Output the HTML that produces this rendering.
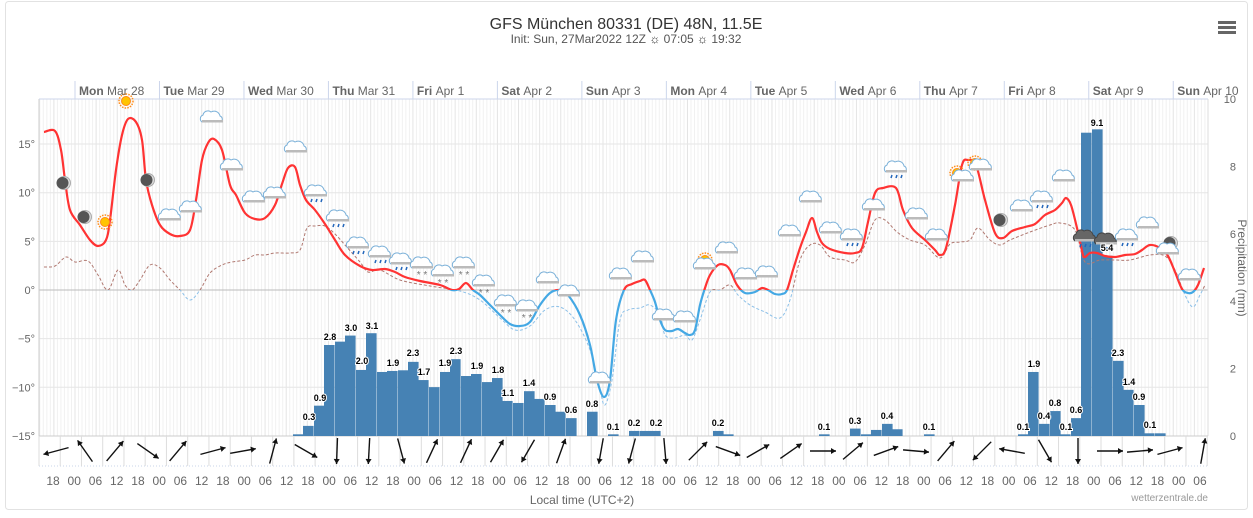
<!DOCTYPE html>
<html><head><meta charset="utf-8"><style>
html,body{margin:0;padding:0;background:#fff;}
body{width:1253px;height:513px;overflow:hidden;font-family:"Liberation Sans","DejaVu Sans",sans-serif;}
svg text{font-family:"Liberation Sans","DejaVu Sans",sans-serif;}
</style></head><body>
<svg id="s" width="1253" height="513" xmlns="http://www.w3.org/2000/svg">
<rect x="5.5" y="1.5" width="1242" height="508" rx="3" fill="#fff" stroke="#e2e2e2"/>
<text x="626" y="29" text-anchor="middle" font-size="16" fill="#333">GFS München 80331 (DE) 48N, 11.5E</text>
<text x="626" y="43" text-anchor="middle" font-size="12" fill="#555">Init: Sun, 27Mar2022 12Z <tspan fill="#222">☼</tspan> 07:05 <tspan fill="#222">☼</tspan> 19:32</text>
<g fill="#666"><rect x="1218" y="21" width="18" height="3"/><rect x="1218" y="26" width="18" height="3"/><rect x="1218" y="31" width="18" height="3"/></g>
<g id="grid"></g>
<g id="bars"></g>
<g id="lines"></g>
<g id="icons"></g>
<g id="wind"></g>
<g id="labels"></g>
<text x="582" y="504" text-anchor="middle" font-size="12" fill="#666">Local time (UTC+2)</text>
<text x="1208" y="501" text-anchor="end" font-size="10" fill="#999">wetterzentrale.de</text>
<text transform="translate(1238,268) rotate(90)" text-anchor="middle" font-size="12" fill="#666">Precipitation (mm)</text>
</svg>
<script>
const NS="http://www.w3.org/2000/svg";
function el(p,t,a,txt){const e=document.createElementNS(NS,t);for(const k in a)e.setAttribute(k,a[k]);if(txt!=null)e.textContent=txt;document.getElementById(p).appendChild(e);return e;}
const L=39,R=1208,T=99,B=436;
const X=h=>75+3.52*h;
for(let h=-10;h<=321;h++){const x=X(h);if(x<L||x>R)continue;el('grid','line',{x1:x,x2:x,y1:T,y2:B,stroke:h%6==0?'#e4e4e4':'#f1f1f1','stroke-width':1});}
for(let t=-15;t<=15;t+=5){const y=290-t*9.73;el('grid','line',{x1:L,x2:R,y1:y,y2:y,stroke:t==0?'#bbb':'#e6e6e6'});
el('labels','text',{x:35,y:y+4,'text-anchor':'end','font-size':11,fill:'#666'},(t<0?'−':'')+Math.abs(t)+'°');}
for(let p=0;p<=10;p+=2){const y=436-p*33.7;el('labels','text',{x:1236,y:y+4,'text-anchor':'end','font-size':11,fill:'#666'},p);}
el('grid','line',{x1:L,x2:L,y1:T,y2:466,stroke:'#ccc'});
el('grid','line',{x1:R,x2:R,y1:T,y2:436,stroke:'#ddd'});
el('grid','line',{x1:L,x2:R,y1:T,y2:T,stroke:'#ccd6eb'});
const days=[['Mon','Mar 28'],['Tue','Mar 29'],['Wed','Mar 30'],['Thu','Mar 31'],['Fri','Apr 1'],['Sat','Apr 2'],['Sun','Apr 3'],['Mon','Apr 4'],['Tue','Apr 5'],['Wed','Apr 6'],['Thu','Apr 7'],['Fri','Apr 8'],['Sat','Apr 9'],['Sun','Apr 10']];
days.forEach((d,i)=>{const x=X(i*24);el('grid','line',{x1:x,x2:x,y1:81,y2:99,stroke:'#ccd6eb'});
const t=el('labels','text',{x:x+4,y:95,'font-size':12,fill:'#666'});const a=document.createElementNS(NS,'tspan');a.setAttribute('font-weight','bold');a.textContent=d[0]+' ';t.appendChild(a);const b=document.createElementNS(NS,'tspan');b.textContent=d[1];t.appendChild(b);});
el('grid','line',{x1:L,x2:R,y1:436,y2:436,stroke:'#ccc'});
el('grid','line',{x1:L,x2:R,y1:466,y2:466,stroke:'#c8d4ea',"stroke-dasharray":"1 2"});
for(let k=0;k<=56;k++){const x=39+21.24*k;if(x>R)break;el('grid','line',{x1:x,x2:x,y1:436,y2:466,stroke:'#ddd'});}
const hl=['18','00','06','12'];
for(let k=0;k<55;k++){el('labels','text',{x:53+21.24*k,y:485,'text-anchor':'middle','font-size':12,fill:'#666'},hl[k%4]);}
const bars=[[293,.05],[303,.3],[314,.9],[324,2.7],[335,2.8],[345,2.98],[356,1.96],[366,3.05],[377,1.9],[387,1.93],[398,1.95],[408,2.2],[418,1.66],[429,1.45],[440,1.9],[450,2.28],[461,1.78],[471,1.84],[482,1.6],[492,1.72],[502,1.04],[513,.98],[524,1.33],[534,1.1],[545,.92],[555,.72],[566,.53],[587,.72],[608,.05],[629,.15],[640,.15],[650,.15],[713,.15],[723,.05],[819,.05],[850,.22],[861,.05],[871,.18],[882,.36],[892,.2],[924,.05],[1018,.05],[1028,1.9],[1039,.36],[1050,.74],[1060,.05],[1071,.53],[1081,9.0],[1092,9.1],[1102,5.35],[1113,2.23],[1123,1.37],[1134,.92],[1144,.08],[1155,.08]];
bars.forEach(b=>{const h=b[1]*33.7;el('bars','rect',{x:b[0],y:436-h,width:10.6,height:h,fill:'#4682b4'});});
const bl=[[309,'0.3',416],[320,'0.9',397],[330,'2.8',336],[351,'3.0',327],[362,'2.0',360],[372,'3.1',325],[393,'1.9',362],[413,'2.3',352],[424,'1.7',371],[445,'1.9',362],[456,'2.3',350],[477,'1.9',365],[498,'1.8',369],[508,'1.1',392],[529,'1.4',382],[550,'0.9',396],[571,'0.6',409],[592,'0.8',403],[613,'0.1',426],[634,'0.2',422],[656,'0.2',422],[718,'0.2',422],[824,'0.1',426],[855,'0.3',420],[887,'0.4',415],[929,'0.1',426],[1023,'0.1',426],[1034,'1.9',363],[1044,'0.4',415],[1055,'0.8',402],[1066,'0.1',426],[1076,'0.6',409],[1097,'9.1',122],[1107,'5.4',247],[1118,'2.3',352],[1129,'1.4',381],[1139,'0.9',396],[1150,'0.1',424]];
bl.forEach(b=>el('labels','text',{x:b[0],y:b[2]+4,'text-anchor':'middle','font-size':9,'font-weight':'bold',fill:'#000',stroke:'#fff','stroke-width':2,'paint-order':'stroke'},b[1]));
function path(pts){let d='M'+pts[0][0]+','+pts[0][1];for(let i=1;i<pts.length;i++){const p0=pts[i-1],p1=pts[i],pm=pts[i-2]||p0,pn=pts[i+1]||p1;
const c1=[p0[0]+(p1[0]-pm[0])/6,p0[1]+(p1[1]-pm[1])/6],c2=[p1[0]-(pn[0]-p0[0])/6,p1[1]-(pn[1]-p0[1])/6];d+=' C'+c1+' '+c2+' '+p1;}return d;}
const temp=[[44,132],[55,131],[61,150],[65,180],[70,210],[80,225],[90,240],[98,246],[106,240],[110,220],[116,170],[122,135],[128,119],[136,122],[142,140],[146,180],[152,205],[160,225],[170,234],[180,236],[190,230],[196,200],[202,160],[208,143],[214,139],[222,150],[230,185],[236,195],[245,213],[255,219],[265,218],[275,205],[282,184],[288,168],[295,167],[300,185],[306,200],[315,210],[325,224],[335,240],[345,255],[360,266],[372,270],[385,269],[395,272],[405,277],[420,281],[440,285],[452,290],[459,289],[466,283],[473,290],[480,295],[490,305],[500,315],[510,324],[520,326],[530,322],[540,305],[550,293],[560,290],[568,295],[580,315],[590,345],[597,380],[604,397],[610,380],[616,320],[624,290],[632,284],[640,281],[645,280],[650,290],[655,302],[660,320],[665,330],[672,331],[678,329],[685,333],[690,335],[695,330],[700,305],[705,288],[710,275],[718,265],[725,265],[730,270],[737,285],[745,293],[755,292],[762,288],[768,290],[775,294],[782,294],[787,290],[793,270],[800,248],[806,232],[812,218],[817,232],[822,243],[830,249],[845,253],[855,253],[862,248],[868,222],[875,193],[883,188],[896,188],[903,210],[912,228],[925,240],[935,250],[940,255],[946,248],[955,205],[962,165],[968,160],[976,165],[985,200],[995,233],[1003,238],[1012,231],[1025,227],[1035,224],[1045,215],[1055,210],[1062,203],[1066,198],[1071,205],[1077,228],[1081,246],[1084,257],[1090,253],[1097,253],[1105,256],[1115,257],[1125,255],[1135,254],[1142,250],[1150,245],[1160,248],[1168,256],[1175,272],[1182,289],[1188,293],[1193,292],[1198,285],[1204,268]];
const dew=[[44,267],[55,266],[66,257],[75,262],[88,261],[98,275],[108,290],[118,270],[125,285],[132,290],[140,280],[150,265],[160,268],[170,280],[180,290],[190,300],[200,290],[210,273],[222,265],[232,262],[245,260],[255,255],[265,255],[275,253],[290,253],[300,250],[307,228],[315,226],[325,226],[335,234],[345,245],[360,262],[368,272],[380,270],[400,280],[430,286],[460,291],[480,300],[500,318],[515,330],[530,326],[545,310],[560,307],[575,320],[590,350],[600,390],[605,405],[612,380],[620,320],[628,310],[640,308],[650,305],[660,315],[665,335],[675,338],[685,335],[692,340],[700,320],[710,292],[720,290],[730,285],[738,295],[750,305],[765,312],[780,318],[790,300],[800,260],[810,245],[820,245],[830,257],[845,260],[855,262],[865,245],[875,220],[885,220],[897,232],[910,240],[925,245],[940,258],[950,244],[960,242],[970,240],[978,228],[990,240],[1000,245],[1010,240],[1030,232],[1050,225],[1060,223],[1075,230],[1085,262],[1100,260],[1115,260],[1130,260],[1150,255],[1165,256],[1175,270],[1185,295],[1193,307],[1200,295],[1205,285]];
const defs=el('lines','defs',{});
const c1=document.createElementNS(NS,'clipPath');c1.id='above';c1.innerHTML='<rect x="0" y="0" width="1253" height="290"/>';defs.appendChild(c1);
const c2=document.createElementNS(NS,'clipPath');c2.id='below';c2.innerHTML='<rect x="0" y="290" width="1253" height="200"/>';defs.appendChild(c2);
const dp=path(dew),tp=path(temp);
el('lines','path',{d:dp,fill:'none',stroke:'#b07870','stroke-width':1,'stroke-dasharray':'3 2','clip-path':'url(#above)'});
el('lines','path',{d:dp,fill:'none',stroke:'#8cc0e8','stroke-width':1,'stroke-dasharray':'3 2','clip-path':'url(#below)'});
el('lines','path',{d:tp,fill:'none',stroke:'#ff3333','stroke-width':2.2,'clip-path':'url(#above)'});
el('lines','path',{d:tp,fill:'none',stroke:'#44a8e4','stroke-width':2.2,'clip-path':'url(#below)'});
function cloud(x,y,dark,rain,snow){const g=el('icons','g',{transform:`translate(${x},${y})`});
const f=dark?'#666':'#fff',s=dark?'#444':'#7ab0d8';
g.innerHTML=`<path d="M-10,4 a4,4 0 0 1 1,-7 a5,5 0 0 1 8,-3 a6,6 0 0 1 9,4 a3.5,3.5 0 0 1 1,6 z" fill="${f}" stroke="${s}" stroke-width="1"/><rect x="-10" y="2" width="21" height="2.5" fill="#bbb"/>`+
(rain?`<path d="M-4,7 l-1,3 M1,7 l-1,3 M6,7 l-1,3" stroke="#2266bb" stroke-width="1.5"/>`:'')+
(snow?`<text x="0" y="14" text-anchor="middle" font-size="10" fill="#777">* *</text>`:'');}
function sun(x,y){el('icons','circle',{cx:x,cy:y,r:7,fill:'none',stroke:'#ff8c1a','stroke-width':1.5,'stroke-dasharray':'1.5 1.2'});el('icons','circle',{cx:x,cy:y,r:4.5,fill:'#ffc400',stroke:'#ff8c1a'});}
function moon(x,y){el('icons','circle',{cx:x,cy:y,r:6.5,fill:'#ddd',stroke:'#aaa'});el('icons','circle',{cx:x-1.5,cy:y,r:6,fill:'#555'});}
[[126,101],[105,222],[705,260],[957,173],[975,163]].forEach(p=>sun(...p));
[[64,183],[85,217],[148,180],[1001,220],[1171,243]].forEach(p=>moon(...p));
const cl=[[212,118],[232,166],[170,216],[191,208],[254,198],[275,194],[296,148],[316,192,0,1],[338,217,0,1],[358,244,0,1],[380,253,0,1],[401,260,0,1],[422,264,0,0,1],[443,272,0,0,1],[464,264,0,0,1],[484,282,0,0,1],[506,302,0,0,1],[527,307,0,0,1],[548,279],[569,292],[600,379],[621,275],[643,258],[664,316],[685,318],[705,265],[727,249],[746,275],[767,273],[790,232],[811,198],[831,229],[852,236,0,1],[874,206],[896,168,0,1],[917,215],[937,236],[963,177],[981,166],[1022,207],[1042,198,0,1],[1064,177],[1085,237,1,1],[1106,240,1,1],[1127,236,0,1],[1148,224],[1168,250],[1190,276]];
cl.forEach(c=>cloud(c[0],c[1],c[2],c[3],c[4]));
const wa=[165,-125,-50,35,-50,-15,-10,-75,30,92,93,75,-65,-65,-60,120,-70,100,105,85,-45,20,-30,-35,0,-40,-20,5,-50,135,190,60,90,0,-5,-15,-80];
const wx=[56,85,115,148,178,213,243,273,306,337,369,401,432,466,497,528,561,601,632,665,698,728,758,791,823,853,886,916,946,982,1012,1045,1078,1110,1140,1170,1203];
wa.forEach((a,i)=>{const r=a*Math.PI/180,cx=wx[i],cy=451,l=13;const x1=cx-Math.cos(r)*l,y1=cy-Math.sin(r)*l,x2=cx+Math.cos(r)*l,y2=cy+Math.sin(r)*l;
el('wind','line',{x1,y1,x2,y2,stroke:'#111','stroke-width':1.4});
const hx=x2-Math.cos(r)*5,hy=y2-Math.sin(r)*5,px=-Math.sin(r)*3,py=Math.cos(r)*3;
el('wind','path',{d:`M${x2},${y2} L${hx+px},${hy+py} L${hx-px},${hy-py} Z`,fill:'#111'});});
</script>
</body></html>
